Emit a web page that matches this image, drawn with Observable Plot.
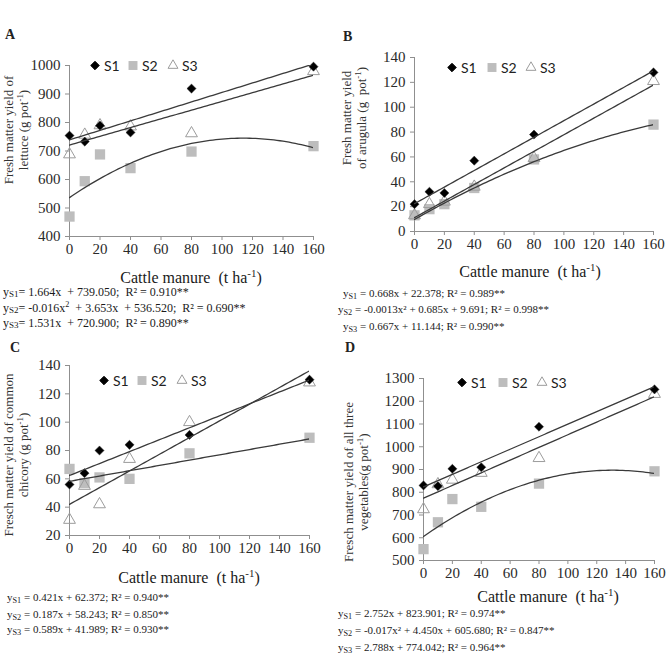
<!DOCTYPE html>
<html>
<head>
<meta charset="utf-8">
<script src="https://cdn.jsdelivr.net/npm/d3@7"></script>
<script src="https://cdn.jsdelivr.net/npm/@observablehq/plot@0.6"></script>
<style>
  html, body { margin: 0; padding: 0; background: #fff; }
  #fig { position: relative; width: 672px; height: 655px; overflow: hidden;
         font-family: "Liberation Serif", serif; color: #222; }
  .abs { position: absolute; white-space: nowrap; }
  .letter { font-weight: bold; font-size: 14px; transform: translateY(-50%); }
  .xt { font-size: 16px; transform: translate(-50%, -50%); color: #1a1a1a; }
  .eq { transform: translateY(-50%); color: #1a1a1a; }
  .eq sub { font-size: 75%; vertical-align: -0.2em; line-height: 0; }
  .eq sup, .xt sup, .yt sup { font-size: 68%; vertical-align: 0.55em; line-height: 0; }
  .yt { transform: translate(-50%, -50%) rotate(-90deg); text-align: center;
        font-size: 13px; line-height: 15px; color: #333; }
  .lg { font-family: Lato, "Liberation Sans", sans-serif; font-size: 14px; color: #222;
        transform: translateY(-50%); display: flex; align-items: center; }
  .lg svg { margin-right: 3px; overflow: visible; }
  .panel { position: absolute; }
  .panel svg { overflow: visible; }
  .panel svg text { font-family: "Liberation Serif", serif !important; font-size: 15px !important; }
</style>
</head>
<body>
<div id="fig"></div>
<script>
// Cattle manure doses (t ha-1)
const manure = [0, 10, 20, 40, 80, 160];
const manureTicks = [0, 20, 40, 60, 80, 100, 120, 140, 160];

// A — lettuce fresh matter yield (g pot-1)
const lettuceS1 = [754, 733, 789, 765, 919, 996];
const lettuceS2 = [470, 594, 688, 640, 698, 717];
const lettuceS3 = [688, 757, 790, 786, 762, 980];
const lettuceTicks = [400, 500, 600, 700, 800, 900, 1000];
// regression coefficients [x², x, constant]
const lettuceFitS1 = [0, 1.664, 739.050];
const lettuceFitS2 = [-0.016, 3.653, 536.520];
const lettuceFitS3 = [0, 1.531, 720.900];

// B — arugula
const arugulaS1 = [22, 32, 31, 57, 78, 128];
const arugulaS2 = [13, 18, 22, 35, 58, 86];
const arugulaS3 = [13, 22, 24, 36, 59, 121];
const arugulaTicks = [0, 20, 40, 60, 80, 100, 120, 140];
const arugulaFitS1 = [0, 0.668, 22.378];
const arugulaFitS2 = [-0.0013, 0.685, 9.691];
const arugulaFitS3 = [0, 0.667, 11.144];

// C — common chicory
const chicoryS1 = [56, 64, 80, 84, 91, 130];
const chicoryS2 = [67, 57, 61, 60, 78, 89];
const chicoryS3 = [31, 55, 42, 74, 100, 128];
const chicoryTicks = [20, 40, 60, 80, 100, 120, 140];
const chicoryFitS1 = [0, 0.421, 62.372];
const chicoryFitS2 = [0, 0.187, 58.243];
const chicoryFitS3 = [0, 0.589, 41.989];

// D — all three vegetables
const totalS1 = [830, 827, 903, 910, 1088, 1252];
const totalS2 = [550, 668, 770, 736, 838, 892];
const totalS3 = [725, 835, 855, 885, 950, 1232];
const totalTicks = [500, 600, 700, 800, 900, 1000, 1100, 1200, 1300];
const totalFitS1 = [0, 2.752, 823.901];
const totalFitS2 = [-0.017, 4.450, 605.680];
const totalFitS3 = [0, 2.788, 774.042];

// Equation captions
const lettuceEq = [
  "y<sub>S1</sub>= 1.664x &nbsp;+ 739.050; &nbsp;R² = 0.910**",
  "y<sub>S2</sub>= -0.016x<sup>2</sup> &nbsp;+ 3.653x &nbsp;+ 536.520; &nbsp;R² = 0.690**",
  "y<sub>S3</sub>= 1.531x &nbsp;+ 720.900; &nbsp;R² = 0.890**"
];
const arugulaEq = [
  "y<sub>S1</sub> = 0.668x + 22.378; R² = 0.989**",
  "y<sub>S2</sub> = -0.0013x² + 0.685x + 9.691; R² = 0.998**",
  "y<sub>S3</sub> = 0.667x + 11.144; R² = 0.990**"
];
const chicoryEq = [
  "y<sub>S1</sub> = 0.421x + 62.372; R² = 0.940**",
  "y<sub>S2</sub> = 0.187x + 58.243; R² = 0.850**",
  "y<sub>S3</sub> = 0.589x + 41.989; R² = 0.930**"
];
const totalEq = [
  "y<sub>S1</sub> = 2.752x + 823.901; R² = 0.974**",
  "y<sub>S2</sub> = -0.017x² + 4.450x + 605.680; R² = 0.847**",
  "y<sub>S3</sub> = 2.788x + 774.042; R² = 0.964**"
];

const fig = document.getElementById("fig");
const axisGray = "#8f8f8f";
const lineColor = "#3a3a3a";
const s2Fill = "#bdbdbd";
const s3Stroke = "#9c9c9c";
const tickFont = {fontFamily: "Liberation Serif", fontSize: 15};

function add(html, cls, x, y, extra = "") {
  const d = document.createElement("div");
  d.className = "abs " + cls;
  d.style.left = x + "px";
  d.style.top = y + "px";
  if (extra) d.style.cssText += extra;
  d.innerHTML = html;
  fig.appendChild(d);
  return d;
}

function symbolSvg(type, size, fill, stroke) {
  const p = d3.symbol().type(type).size(size)();
  return `<svg width="12" height="12" viewBox="-6 -6 12 12"><path d="${p}" fill="${fill}" stroke="${stroke}" stroke-width="1"/></svg>`;
}

// sample a fitted polynomial across the manure range
function fitRows(coef, series) {
  const rows = [];
  for (let x = 0; x <= 160; x += 2) rows.push({x, y: coef[0] * x * x + coef[1] * x + coef[2], series});
  return rows;
}

function panel(p) {
  const pts = (ys) => manure.map((x, i) => ({x, y: ys[i]}));
  const fits = [...fitRows(p.fit[0], "S1"), ...fitRows(p.fit[1], "S2"), ...fitRows(p.fit[2], "S3")];
  const chart = Plot.plot({
    width: p.width, height: p.height,
    marginLeft: p.ml, marginRight: p.mr, marginTop: p.mt, marginBottom: p.mb,
    x: {domain: [0, 160]},
    y: {domain: p.yDomain},
    style: {fontFamily: "Liberation Serif, serif", fontSize: "15px", color: "#333", background: "transparent"},
    marks: [
      Plot.ruleX([0], {stroke: axisGray}),
      Plot.ruleY([p.yDomain[0]], {stroke: axisGray}),
      Plot.axisX(manureTicks, {tickSize: 4, tickPadding: 3, label: null, tickFormat: d => String(d), stroke: axisGray, fill: "#2a2a2a", ...tickFont}),
      Plot.axisY(p.yTicks, {tickSize: 4, tickPadding: 5, label: null, tickFormat: d => String(d), stroke: axisGray, fill: "#2a2a2a", ...tickFont}),
      Plot.dot(pts(p.s2), {x: "x", y: "y", symbol: "square", r: 5.8, fill: s2Fill, stroke: null}),
      Plot.dot(pts(p.s3), {x: "x", y: "y", symbol: "triangle", r: 4.4, fill: "none", stroke: s3Stroke, strokeWidth: 1}),
      Plot.dot(pts(p.s1), {x: "x", y: "y", symbol: "diamond2", r: 4.1, fill: "#000", stroke: "#333", strokeWidth: 0.5}),
      Plot.line(fits, {x: "x", y: "y", z: "series", stroke: lineColor, strokeWidth: 1.3, clip: true})
    ]
  });
  const holder = document.createElement("div");
  holder.className = "panel";
  holder.style.left = p.left + "px";
  holder.style.top = p.top + "px";
  holder.appendChild(chart);
  fig.appendChild(holder);

  // panel letter
  add(p.id, "letter", p.letter[0], p.letter[1]);
  // legend
  const [lx, ly, step] = p.legend;
  add(symbolSvg(d3.symbolDiamond2, 46, "#000", "#000") + "S1", "lg", lx, ly);
  add(symbolSvg(d3.symbolSquare, 80, s2Fill, "none") + "S2", "lg", lx + step[0], ly);
  add(symbolSvg(d3.symbolTriangle, 42, "none", s3Stroke) + "S3", "lg", lx + step[1], ly);
  // axis titles
  add("Cattle manure &nbsp;(t ha<sup>-1</sup>)", "xt", p.xTitle[0], p.xTitle[1]);
  add(p.yTitle, "yt", p.yTitlePos[0], p.yTitlePos[1]);
  // equations
  p.eq.forEach((e, i) => add(e, "eq", p.eqPos[i][0], p.eqPos[i][1], `font-size:${p.eqSize}px`));
}

panel({
  id: "A", s1: lettuceS1, s2: lettuceS2, s3: lettuceS3,
  fit: [lettuceFitS1, lettuceFitS2, lettuceFitS3],
  yDomain: [400, 1000], yTicks: lettuceTicks,
  left: 0, top: 45, width: 336, height: 220, ml: 69, mr: 23, mt: 20, mb: 29,
  letter: [5, 35], legend: [89, 65, [38, 78]],
  xTitle: [191, 278],
  yTitle: "Fresh matter yield of<br>lettuce (g pot<sup>-1</sup>)", yTitlePos: [16, 130],
  eq: lettuceEq, eqSize: 12, eqPos: [[3, 292], [3, 308], [3, 323]]
});

panel({
  id: "B", s1: arugulaS1, s2: arugulaS2, s3: arugulaS3,
  fit: [arugulaFitS1, arugulaFitS2, arugulaFitS3],
  yDomain: [0, 140], yTicks: arugulaTicks,
  left: 336, top: 40, width: 336, height: 220, ml: 78, mr: 19, mt: 17, mb: 29,
  letter: [343, 37], legend: [446, 67, [40, 79]],
  xTitle: [530, 272],
  yTitle: "Fresh matter yield<br>of arugula (g &nbsp;pot<sup>-1</sup>)", yTitlePos: [354, 118],
  eq: arugulaEq, eqSize: 11, eqPos: [[343, 293], [338, 309], [343, 326]]
});

panel({
  id: "C", s1: chicoryS1, s2: chicoryS2, s3: chicoryS3,
  fit: [chicoryFitS1, chicoryFitS2, chicoryFitS3],
  yDomain: [20, 140], yTicks: chicoryTicks,
  left: 0, top: 345, width: 336, height: 220, ml: 69, mr: 27, mt: 20, mb: 30,
  letter: [10, 348], legend: [98, 380, [38, 78]],
  xTitle: [189, 578],
  yTitle: "Fresch matter yield of common<br>chicory (g pot<sup>-1</sup>)", yTitlePos: [16, 455],
  eq: chicoryEq, eqSize: 11, eqPos: [[7, 597], [7, 614], [7, 629]]
});

panel({
  id: "D", s1: totalS1, s2: totalS2, s3: totalS3,
  fit: [totalFitS1, totalFitS2, totalFitS3],
  yDomain: [500, 1300], yTicks: totalTicks,
  left: 336, top: 358, width: 336, height: 232, ml: 87, mr: 18, mt: 20, mb: 30,
  letter: [345, 348], legend: [456, 382, [41, 80]],
  xTitle: [548, 597],
  yTitle: "Fresch matter yield of all three<br>vegetables(g pot<sup>-1</sup>)", yTitlePos: [356, 482],
  eq: totalEq, eqSize: 11, eqPos: [[338, 613], [338, 630], [338, 647]]
});
</script>
</body>
</html>
